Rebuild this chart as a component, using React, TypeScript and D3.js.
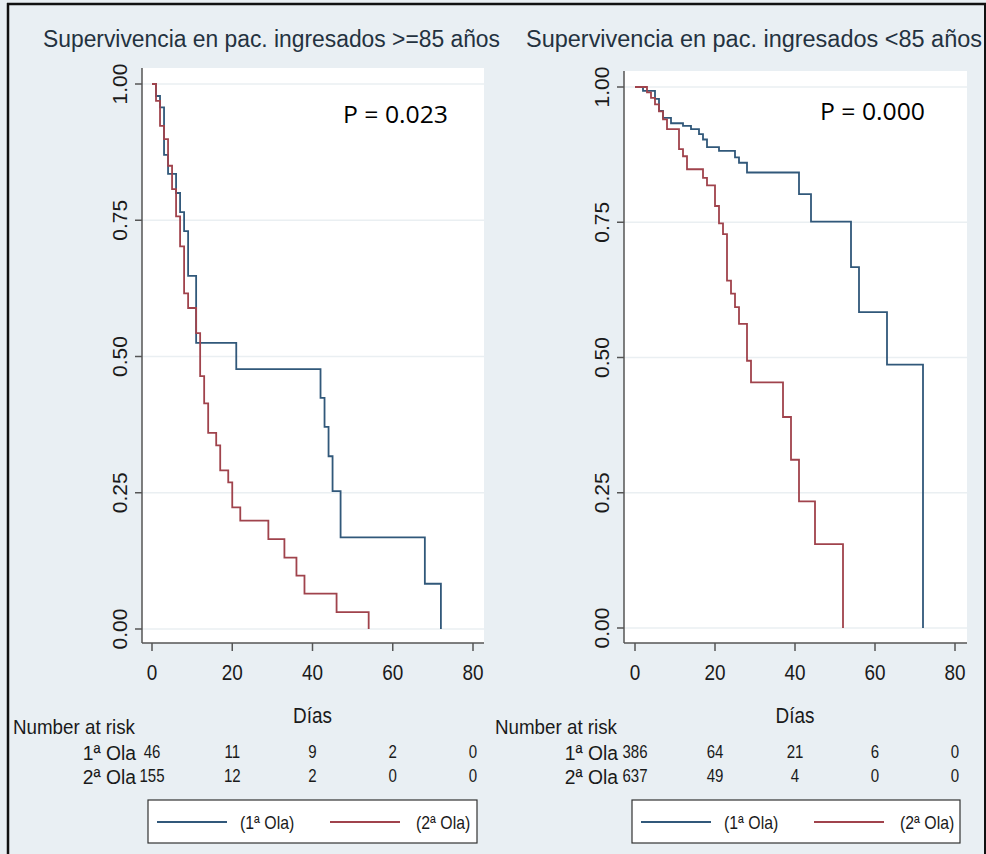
import React from "react";
import * as d3 from "d3";

// ---- data ----
const xTicks = [0, 20, 40, 60, 80];
const yTicks = [0, 0.25, 0.5, 0.75, 1];
const yTickLabels = ["0.00", "0.25", "0.50", "0.75", "1.00"];
const seriesNames = ["(1ª Ola)", "(2ª Ola)"];
const rowLabels = ["1ª Ola", "2ª Ola"];

const titleOld = "Supervivencia en pac. ingresados >=85 años";
const titleYoung = "Supervivencia en pac. ingresados <85 años";
const pOld = "P = 0.023";
const pYoung = "P = 0.000";

const oldOla1: [number, number][] = [
  [0, 1], [1, 0.978], [2, 0.957], [3, 0.87], [4, 0.835], [6, 0.8], [7, 0.765], [8, 0.73],
  [9, 0.648], [11, 0.525], [21, 0.477], [42, 0.424], [43, 0.371], [44, 0.317], [45, 0.253],
  [47, 0.168], [68, 0.083], [72, 0],
];
const oldOla2: [number, number][] = [
  [0, 1], [1, 0.969], [2, 0.923], [3, 0.899], [4, 0.85], [5, 0.807], [6, 0.757], [7, 0.702],
  [8, 0.616], [9, 0.589], [11, 0.543], [12, 0.464], [13, 0.414], [14, 0.36], [16, 0.337],
  [17, 0.291], [19, 0.269], [20, 0.223], [22, 0.199], [29, 0.165], [33, 0.131], [36, 0.098],
  [38, 0.065], [46, 0.031], [54, 0],
];
const youngOla1: [number, number][] = [
  [0, 1], [2, 0.993], [5, 0.978], [6, 0.956], [7, 0.943], [9, 0.933], [12, 0.928], [14, 0.922],
  [16, 0.913], [17, 0.903], [18, 0.889], [21, 0.882], [25, 0.87], [26, 0.86], [28, 0.842],
  [41, 0.802], [44, 0.751], [54, 0.667], [56, 0.584], [63, 0.487], [72, 0],
];
const youngOla2: [number, number][] = [
  [0, 1], [3, 0.99], [4, 0.98], [5, 0.968], [6, 0.955], [7, 0.94], [8, 0.922], [11, 0.885],
  [12, 0.872], [13, 0.848], [17, 0.832], [18, 0.818], [20, 0.78], [21, 0.748], [22, 0.728],
  [23, 0.642], [24, 0.618], [25, 0.593], [26, 0.562], [28, 0.494], [29, 0.454], [37, 0.39],
  [39, 0.311], [41, 0.234], [45, 0.155], [52, 0],
];
const oldRisk1 = [46, 11, 9, 2, 0];
const oldRisk2 = [155, 12, 2, 0, 0];
const youngRisk1 = [386, 64, 21, 6, 0];
const youngRisk2 = [637, 49, 4, 0, 0];

const BLUE = "#31587a";
const RED = "#a0434c";
const BG = "#e9eff3";
const TXT = "#1a1a1a";
const FONT = "'Liberation Sans', Arial, sans-serif";

function T(props: {
  x: number; y: number; size: number; sx?: number; anchor?: string; fill?: string;
  children: React.ReactNode;
}) {
  const sx = props.sx ?? 0.88;
  return (
    <text transform={`translate(${props.x},${props.y}) scale(${sx},1)`} textAnchor={props.anchor || "start"}
      fontSize={props.size} fill={props.fill || TXT} fontFamily={FONT}>
      {props.children}
    </text>
  );
}

type PanelProps = {
  title: string;
  titleX: number;
  titleLen: number;
  pText: string;
  pX: number;
  pY: number;
  plotL: number;
  plotR: number;
  plotT: number;
  x0: number;
  x80: number;
  y0: number;
  y1: number;
  s1: [number, number][];
  s2: [number, number][];
  r1: number[];
  r2: number[];
  narX: number;
  rowRight: number;
  legL: number;
  legR: number;
};

function Panel(p: PanelProps) {
  const x = d3.scaleLinear().domain([0, 80]).range([p.x0, p.x80]);
  const y = d3.scaleLinear().domain([0, 1]).range([p.y0, p.y1]);
  const line = d3
    .line<[number, number]>()
    .x((d) => x(d[0]))
    .y((d) => y(d[1]))
    .curve(d3.curveStepAfter);
  const axisY = 643;
  const legW = p.legR - p.legL;
  return (
    <g>
      <text x={p.titleX} y={47} fontSize={23} fill="#24323f" fontFamily={FONT}
        textLength={p.titleLen} lengthAdjust="spacingAndGlyphs">{p.title}</text>
      <rect x={p.plotL} y={p.plotT} width={p.plotR - p.plotL} height={axisY - p.plotT} fill="#ffffff" />
      {yTicks.map((t) => (
        <line key={"g" + t} x1={p.plotL} x2={p.plotR} y1={y(t)} y2={y(t)} stroke="#eaeff2" strokeWidth={1.5} />
      ))}
      <path d={line(p.s1) || ""} fill="none" stroke={BLUE} strokeWidth={1.8} />
      <path d={line(p.s2) || ""} fill="none" stroke={RED} strokeWidth={1.8} />
      <line x1={p.plotL} x2={p.plotL} y1={p.plotT} y2={axisY} stroke="#555" strokeWidth={1.5} />
      <line x1={p.plotL} x2={p.plotR} y1={axisY} y2={axisY} stroke="#555" strokeWidth={1.5} />
      {yTicks.map((t, i) => (
        <g key={"yt" + t}>
          <line x1={p.plotL - 7} x2={p.plotL} y1={y(t)} y2={y(t)} stroke="#555" strokeWidth={1.5} />
          <text transform={`translate(${p.plotL - 15},${y(t)}) rotate(-90)`} textAnchor="middle"
            fontSize={21} fill={TXT} fontFamily={FONT}>{yTickLabels[i]}</text>
        </g>
      ))}
      {xTicks.map((t) => (
        <g key={"xt" + t}>
          <line x1={x(t)} x2={x(t)} y1={axisY} y2={axisY + 8} stroke="#555" strokeWidth={1.5} />
          <T x={x(t)} y={680} size={21.5} anchor="middle">{t}</T>
        </g>
      ))}
      <T x={x(40)} y={723} size={21.5} anchor="middle">Días</T>
      <text x={p.narX} y={734} fontSize={21} fill={TXT} fontFamily={FONT} textLength={122} lengthAdjust="spacingAndGlyphs">Number at risk</text>
      {[p.r1, p.r2].map((row, ri) => (
        <g key={"row" + ri}>
          <T x={p.rowRight} y={760 + ri * 24} size={21} sx={0.92} anchor="end">{rowLabels[ri]}</T>
          {row.map((v, i) => (
            <T key={i} x={x(xTicks[i])} y={758 + ri * 24} size={17.5} sx={0.86} anchor="middle">{v}</T>
          ))}
        </g>
      ))}
      <rect x={p.legL} y={800} width={legW} height={43} fill="#ffffff" stroke="#333" strokeWidth={1.2} />
      <line x1={p.legL + 9} x2={p.legL + 79} y1={822} y2={822} stroke={BLUE} strokeWidth={1.8} />
      <T x={p.legL + 92} y={829} size={18} sx={0.88}>{seriesNames[0]}</T>
      <line x1={p.legL + 182} x2={p.legL + 252} y1={822} y2={822} stroke={RED} strokeWidth={1.8} />
      <T x={p.legL + 268} y={829} size={18} sx={0.88}>{seriesNames[1]}</T>
      <text x={p.pX} y={p.pY} fontSize={23} fill="#000" fontFamily="'Open Sans', 'Noto Sans', sans-serif"
        textLength={105} lengthAdjust="spacingAndGlyphs">{p.pText}</text>
    </g>
  );
}

export default function App() {
  return (
    <div style={{ position: "absolute", left: 0, top: 0 }}>
      <svg width={986} height={854} style={{ display: "block" }}>
        <rect x={0} y={0} width={986} height={854} fill={BG} />
        <Panel title={titleOld} titleX={43} titleLen={457} pText={pOld} pX={343} pY={123}
          plotL={142} plotR={484} plotT={68} x0={152} x80={473} y0={629} y1={84}
          s1={oldOla1} s2={oldOla2} r1={oldRisk1} r2={oldRisk2} narX={13} rowRight={136}
          legL={148} legR={477} />
        <Panel title={titleYoung} titleX={526} titleLen={456} pText={pYoung} pX={820} pY={120}
          plotL={624} plotR={967} plotT={71} x0={635} x80={955} y0={628} y1={87}
          s1={youngOla1} s2={youngOla2} r1={youngRisk1} r2={youngRisk2} narX={495} rowRight={618}
          legL={632} legR={960} />
        <line x1={8} x2={8} y1={3} y2={854} stroke="#111" strokeWidth={2.5} />
        <line x1={7} x2={986} y1={4} y2={4} stroke="#111" strokeWidth={2.5} />
        <line x1={985} x2={985} y1={3} y2={854} stroke="#111" strokeWidth={2} />
      </svg>
    </div>
  );
}
